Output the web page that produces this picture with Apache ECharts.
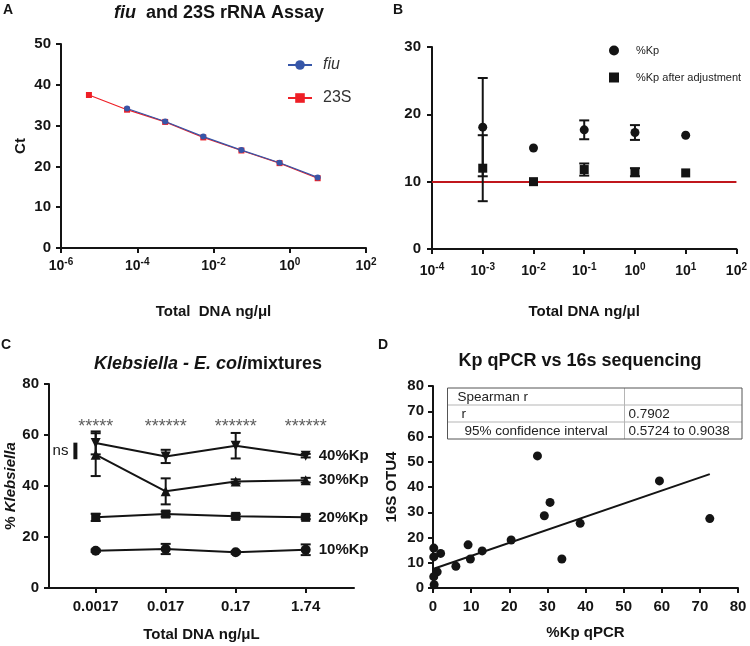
<!DOCTYPE html>
<html><head><meta charset="utf-8">
<script src="https://cdn.jsdelivr.net/npm/echarts@6/dist/echarts.min.js"></script>
<style>html,body{margin:0;padding:0;background:#fff}#c{width:750px;height:646px}</style>
</head><body><div id="c"></div>
<script>
// ---------- Panel A: fiu and 23S standard curves ----------
const A_conc23S = [5.4e-6, 5.4e-5, 5.4e-4, 5.4e-3, 5.4e-2, 0.54, 5.4];
const A_ct23S   = [37.5, 33.9, 30.9, 27.1, 23.9, 20.8, 17.1];
const A_concFiu = [5.4e-5, 5.4e-4, 5.4e-3, 5.4e-2, 0.54, 5.4];
const A_ctFiu   = [34.2, 31.0, 27.3, 24.0, 20.9, 17.3];

// ---------- Panel B: %Kp before/after adjustment ----------
const B_conc  = [1e-3, 1e-2, 1e-1, 1, 10];
const B_kp    = [18.1, 15.0, 17.7, 17.3, 16.9];
const B_kpSD  = [7.3, 0, 1.4, 1.1, 0];
const B_adj   = [12.0, 10.0, 11.8, 11.4, 11.3];
const B_adjSD = [4.9, 0, 0.9, 0.6, 0];
const B_reference = 10;

// ---------- Panel C: Klebsiella - E. coli mixtures ----------
const C_cats  = ['0.0017', '0.017', '0.17', '1.74'];
const C_names = ['40%Kp', '30%Kp', '20%Kp', '10%Kp'];
const C_kp40  = [56.9, 51.6, 55.8, 51.9];
const C_sd40  = [4.5, 2.6, 5.0, 0.7];
const C_kp30  = [52.3, 37.9, 41.8, 42.3];
const C_sd30  = [8.4, 5.1, 0.8, 0.9];
const C_kp20  = [27.7, 29.0, 28.1, 27.7];
const C_sd20  = [1.4, 1.0, 0.8, 0.7];
const C_kp10  = [14.6, 15.3, 14.0, 15.0];
const C_sd10  = [0.5, 2.0, 0.5, 2.1];
const C_stars = ['*****', '******', '******', '******'];
const C_starLevel = 63;
const C_nsRange = [50.5, 57];
const C_nsX = -0.29;

// ---------- Panel D: Kp qPCR vs 16S sequencing ----------
const D_qpcr = [27.4, 59.4, 72.6, 30.7, 29.2, 38.6, 33.8, 20.5, 12.9, 9.2, 9.8, 6.0, 2.0, 1.1, 0.2, 0.2, 0.2, 0.3];
const D_otu  = [52.3, 42.4, 27.5, 33.9, 28.6, 25.6, 11.5, 19.0, 14.7, 17.1, 11.5, 8.6, 13.7, 6.4, 15.8, 12.3, 4.5, 1.3];
const D_fitX = [0, 72.6];
const D_fitY = [7.5, 45.1];
const D_tableRows = [['Spearman r', ''], ['r', '0.7902'], ['95% confidence interval', '0.5724 to 0.9038']];

// ---------- styling helpers ----------
const F = '"Liberation Sans", Arial, Helvetica, sans-serif';
const INK = '#141414';
const zip = (xs, ys) => xs.map((x, i) => [x, ys[i]]);

function axis(o) {
  return Object.assign({
    axisLine: { show: true, onZero: false, lineStyle: { color: INK, width: 2 } },
    axisTick: Object.assign({ show: true, length: 5, lineStyle: { color: INK, width: 2 } }, o.tick || {}),
    axisLabel: Object.assign({ color: INK, fontFamily: F, fontWeight: 'bold', fontSize: 15, margin: 10 }, o.label || {}),
    splitLine: { show: false },
    nameLocation: 'middle',
    nameTextStyle: Object.assign({ color: INK, fontFamily: F, fontWeight: 'bold', fontSize: 15 }, o.nameStyle || {})
  }, o.base);
}

const powRich = {
  b: { fontSize: 14, fontWeight: 'bold', fontFamily: F, color: INK, lineHeight: 18 },
  s: { fontSize: 10, fontWeight: 'bold', fontFamily: F, color: INK, lineHeight: 9, verticalAlign: 'top' }
};
const powLabel = v => '{b|10}{s|' + Math.round(Math.log10(v)) + '}';

function errBars(xs, ys, sds) {
  const out = [];
  xs.forEach((x, i) => { if (sds[i] > 0) out.push([x, ys[i] - sds[i], ys[i] + sds[i]]); });
  return out;
}
function errRender(params, api) {
  const x = api.value(0), lo = api.value(1), hi = api.value(2);
  const a = api.coord([x, lo]), b = api.coord([x, hi]);
  const w = 5, st = { stroke: INK, lineWidth: 2 };
  return { type: 'group', children: [
    { type: 'line', shape: { x1: a[0], y1: a[1], x2: b[0], y2: b[1] }, style: st },
    { type: 'line', shape: { x1: a[0] - w, y1: a[1], x2: a[0] + w, y2: a[1] }, style: st },
    { type: 'line', shape: { x1: b[0] - w, y1: b[1], x2: b[0] + w, y2: b[1] }, style: st }
  ] };
}
function errSeries(xi, yi, data) {
  return { type: 'custom', xAxisIndex: xi, yAxisIndex: yi, renderItem: errRender, data: data,
           encode: { x: 0, y: [1, 2] }, z: 3, silent: true };
}
const solid = { color: INK, opacity: 1 };

const catIdx = C_cats.map((_, i) => i);
const C_sets = [
  { name: C_names[0], v: C_kp40, sd: C_sd40, symbol: 'triangle', rot: 180, size: 10 },
  { name: C_names[1], v: C_kp30, sd: C_sd30, symbol: 'triangle', rot: 0, size: 10 },
  { name: C_names[2], v: C_kp20, sd: C_sd20, symbol: 'rect', rot: 0, size: 9 },
  { name: C_names[3], v: C_kp10, sd: C_sd10, symbol: 'circle', rot: 0, size: 10 }
];

const series = [
  // A
  { name: '23S', type: 'line', xAxisIndex: 0, yAxisIndex: 0, data: zip(A_conc23S, A_ct23S),
    symbol: 'rect', symbolSize: 6, color: '#ee1f26', itemStyle: { color: '#ee1f26', opacity: 1 },
    lineStyle: { width: 1.2, color: '#ee1f26' }, z: 3 },
  { name: 'fiu', type: 'line', xAxisIndex: 0, yAxisIndex: 0, data: zip(A_concFiu, A_ctFiu),
    symbol: 'circle', symbolSize: 6, color: '#3656a8', itemStyle: { color: '#3656a8', opacity: 1 },
    lineStyle: { width: 1.2, color: '#3656a8' }, z: 4 },
  // B
  errSeries(1, 1, errBars(B_conc, B_kp, B_kpSD)),
  errSeries(1, 1, errBars(B_conc, B_adj, B_adjSD)),
  { name: '%Kp', type: 'scatter', xAxisIndex: 1, yAxisIndex: 1, data: zip(B_conc, B_kp),
    symbol: 'circle', symbolSize: 9, itemStyle: solid, z: 5,
    markLine: { silent: true, symbol: 'none', z: 1, label: { show: false },
      lineStyle: { color: '#c0161c', width: 2, type: 'solid' }, data: [{ yAxis: B_reference }] } },
  { name: '%Kp after adjustment', type: 'scatter', xAxisIndex: 1, yAxisIndex: 1, data: zip(B_conc, B_adj),
    symbol: 'rect', symbolSize: 9, itemStyle: solid, z: 5 }
];

// C
C_sets.forEach(s => {
  series.push(errSeries(2, 2, errBars(catIdx, s.v, s.sd)));
  series.push({
    name: s.name, type: 'line', xAxisIndex: 2, yAxisIndex: 2,
    data: s.v.map((y, i) => i === s.v.length - 1
      ? { value: [catIdx[i], y], label: { show: true, position: 'right', distance: 8, formatter: s.name,
          color: INK, fontFamily: F, fontWeight: 'bold', fontSize: 15 } }
      : [catIdx[i], y]),
    symbol: s.symbol, symbolRotate: s.rot, symbolSize: s.size, itemStyle: solid,
    lineStyle: { width: 2, color: INK }, z: 4
  });
});
series.push({
  type: 'scatter', xAxisIndex: 2, yAxisIndex: 2, symbolSize: 2, itemStyle: { color: 'rgba(0,0,0,0)' }, silent: true, z: 6,
  data: catIdx.map(i => [i, C_starLevel]),
  label: { show: true, position: 'inside', formatter: p => C_stars[p.dataIndex],
    color: '#333', fontFamily: F, fontSize: 18 },
  labelLayout: { hideOverlap: false }
});
series.push({
  type: 'custom', xAxisIndex: 2, yAxisIndex: 2, silent: true, data: [[C_nsX, C_nsRange[0], C_nsRange[1]]],
  encode: { x: 0, y: [1, 2] },
  renderItem: (params, api) => {
    const a = api.coord([api.value(0), api.value(1)]), b = api.coord([api.value(0), api.value(2)]);
    return { type: 'group', children: [
      { type: 'rect', shape: { x: a[0] - 2, y: b[1], width: 4, height: a[1] - b[1] }, style: { fill: INK } },
      { type: 'text', style: { x: a[0] - 7, y: (a[1] + b[1]) / 2, text: 'ns', align: 'right', verticalAlign: 'middle',
          fill: INK, font: '15px ' + F } }
    ] };
  }
});

// D
series.push({ type: 'line', xAxisIndex: 3, yAxisIndex: 3, data: zip(D_fitX, D_fitY), symbol: 'none',
  lineStyle: { color: INK, width: 2 }, z: 3, silent: true });
series.push({ type: 'scatter', xAxisIndex: 3, yAxisIndex: 3, data: zip(D_qpcr, D_otu),
  symbol: 'circle', symbolSize: 9, itemStyle: solid, z: 4 });

// table graphic for panel D
const tX0 = 447.5, tX1 = 624.5, tX2 = 742, tY0 = 388, tRH = 17;
const tableEls = [];
for (let r = 1; r < D_tableRows.length; r++) {
  tableEls.push({ type: 'line', shape: { x1: tX0, y1: tY0 + r * tRH, x2: tX2, y2: tY0 + r * tRH }, style: { stroke: '#b5b5b5', lineWidth: 1 } });
}
tableEls.push({ type: 'line', shape: { x1: tX1, y1: tY0, x2: tX1, y2: tY0 + D_tableRows.length * tRH }, style: { stroke: '#b5b5b5', lineWidth: 1 } });
tableEls.push({ type: 'rect', shape: { x: tX0, y: tY0, width: tX2 - tX0, height: D_tableRows.length * tRH }, style: { fill: 'none', stroke: '#555', lineWidth: 1 } });
const indents = [10, 14, 17];
D_tableRows.forEach((row, r) => {
  const yc = tY0 + r * tRH + tRH / 2 + 0.5;
  tableEls.push({ type: 'text', style: { x: tX0 + indents[r], y: yc, text: row[0], verticalAlign: 'middle', fill: '#222', font: '13.5px ' + F } });
  if (row[1]) tableEls.push({ type: 'text', style: { x: tX1 + 4, y: yc, text: row[1], verticalAlign: 'middle', fill: '#222', font: '13.5px ' + F } });
});

const titleRich = {
  n: { fontFamily: F, fontWeight: 'bold', fontSize: 18, fill: INK, color: INK },
  i: { fontFamily: F, fontWeight: 'bold', fontStyle: 'italic', fontSize: 18, fill: INK, color: INK }
};
function txt(x, y, text, extra) {
  return { type: 'text', z: 10, style: Object.assign({ x, y, text, align: 'center', verticalAlign: 'middle', fill: INK,
    font: 'bold 18px ' + F, rich: titleRich }, extra || {}) };
}

const option = {
  animation: false,
  backgroundColor: '#fff',
  grid: [
    { left: 61, top: 44, width: 305, height: 204 },
    { left: 432, top: 47, width: 305, height: 202 },
    { left: 49, top: 384, width: 305, height: 204 },
    { left: 433, top: 386, width: 305, height: 202 }
  ],
  xAxis: [
    axis({ base: { type: 'log', logBase: 10, gridIndex: 0, min: 1e-6, max: 100, interval: 2,
      name: 'Total  DNA ng/\u03bcl', nameGap: 56 },
      label: { formatter: powLabel, rich: powRich, margin: 9 } }),
    axis({ base: { type: 'log', logBase: 10, gridIndex: 1, min: 1e-4, max: 100, interval: 1,
      name: 'Total DNA ng/\u03bcl', nameGap: 55 },
      label: { formatter: powLabel, rich: powRich, margin: 13 } }),
    axis({ base: { type: 'value', gridIndex: 2, min: -0.667, max: 3.69, name: 'Total DNA ng/\u03bcL', nameGap: 39 },
      label: { customValues: catIdx, formatter: v => C_cats[Math.round(v)], margin: 11 },
      tick: { customValues: catIdx } }),
    axis({ base: { type: 'value', gridIndex: 3, min: 0, max: 80, interval: 10, name: '%Kp qPCR', nameGap: 37 },
      label: { margin: 11 } })
  ],
  yAxis: [
    axis({ base: { type: 'value', gridIndex: 0, min: 0, max: 50, interval: 10, name: 'Ct', nameGap: 33 } }),
    axis({ base: { type: 'value', gridIndex: 1, min: 0, max: 30, interval: 10 }, label: { margin: 11 } }),
    axis({ base: { type: 'value', gridIndex: 2, min: 0, max: 80, interval: 20, name: '{n|% }{i|Klebsiella}', nameGap: 28 },
      nameStyle: { rich: {
        n: { fontFamily: F, fontWeight: 'bold', fontSize: 15, color: INK },
        i: { fontFamily: F, fontWeight: 'bold', fontStyle: 'italic', fontSize: 15, color: INK } } } }),
    axis({ base: { type: 'value', gridIndex: 3, min: 0, max: 80, interval: 10, name: '16S OTU4', nameGap: 34 },
      label: { margin: 9 } })
  ],
  legend: [
    { data: ['fiu', '23S'], orient: 'vertical', left: 282, top: 52, itemWidth: 24, itemHeight: 12, itemGap: 17,
      formatter: n => n === 'fiu' ? '{i|fiu}' : '{n|' + n + '}',
      textStyle: { color: '#333', fontFamily: F, fontSize: 16, padding: [0, 0, 0, 6],
        rich: { i: { fontStyle: 'italic', fontFamily: F, fontSize: 16, color: '#333' }, n: { fontFamily: F, fontSize: 16, color: '#333' } } } },
    { data: ['%Kp', '%Kp after adjustment'], orient: 'vertical', left: 604, top: 40, itemWidth: 10, itemHeight: 10, itemGap: 16,
      textStyle: { color: '#222', fontFamily: F, fontSize: 11, padding: [0, 0, 0, 12] } }
  ],
  graphic: [
    txt(8, 10, 'A', { font: 'bold 14px ' + F }),
    txt(398, 10, 'B', { font: 'bold 14px ' + F }),
    txt(6, 345, 'C', { font: 'bold 14px ' + F }),
    txt(383, 345, 'D', { font: 'bold 14px ' + F }),
    txt(219, 13, '{i|fiu}{n|  and 23S rRNA Assay}'),
    txt(208, 364, '{i|Klebsiella - E. coli}{n|mixtures}'),
    txt(580, 361, '{n|Kp qPCR vs 16s sequencing}'),
    { type: 'group', z: 10, children: tableEls }
  ],
  series: series
};

const chart = echarts.init(document.getElementById('c'), null, { renderer: 'canvas' });
chart.setOption(option);
</script></body></html>
